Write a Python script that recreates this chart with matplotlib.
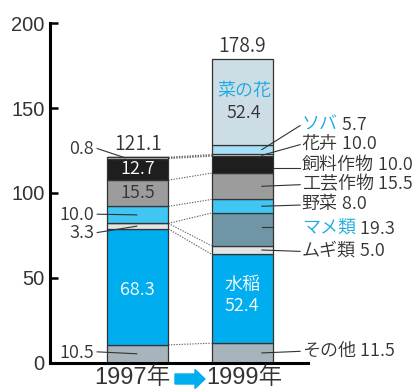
import numpy as np
import matplotlib
matplotlib.use("Agg")
import matplotlib.pyplot as plt
from matplotlib.patches import FancyArrow

plt.rcParams['font.family'] = ['Noto Sans CJK JP', 'DejaVu Sans']
plt.rcParams['font.weight'] = 350
latin = ['Liberation Sans', 'Noto Sans CJK JP']

# データ (下から順)
cats = ['その他', '水稲', 'ムギ類', 'マメ類', '野菜', '工芸作物', '飼料作物', '花卉', 'ソバ', '菜の花']
v1997 = [10.5, 68.3, 3.3, 0.0, 10.0, 15.5, 12.7, 0.8, 0.0, 0.0]
v1999 = [11.5, 52.4, 5.0, 19.3, 8.0, 15.5, 10.0, 1.0, 5.7, 50.5]
txt1999 = ['11.5', '52.4', '5.0', '19.3', '8.0', '15.5', '10.0', '10.0', '5.7', '52.4']
years = ['1997年', '1999年']

colors = ['#a7b4bc', '#00adee', '#e4e4e4', '#6f95a6', '#3fc6f3',
          '#9c9c9c', '#1e1e1e', '#f2f2f2', '#a6dff7', '#cddde6']
cyan_txt = '#1aa9e0'
dark = '#333333'

fig = plt.figure(figsize=(4.19, 3.9), dpi=100)
ax = fig.add_axes([50 / 419, 27.3 / 390, 258 / 419, 339.4 / 390])

w = 0.585
x = [0, 1]
bottoms = np.zeros(2)
tops = []
for i, c in enumerate(cats):
    vals = np.array([v1997[i], v1999[i]])
    ax.bar(x, vals, w, bottom=bottoms, color=colors[i], edgecolor=dark, linewidth=0.9, zorder=2)
    bottoms = bottoms + vals
    tops.append(bottoms)
tops = np.array(tops)
base = tops - np.array([v1997, v1999]).T
mid97 = (tops[:, 0] + base[:, 0]) / 2
mid99 = (tops[:, 1] + base[:, 1]) / 2

# 年の間をつなぐ点線
dot = dict(color='#666666', linestyle=(0, (1.2, 1.2)), linewidth=0.8, zorder=1)
for i in range(8):
    ax.plot([w / 2, 1 - w / 2], [tops[i, 0], tops[i, 1]], **dot)
ax.plot([w / 2, 1 - w / 2], [tops[6, 0] + 0.4, tops[6, 1] + 0.4], **dot)

# 合計
ax.text(0, tops[-1, 0] + 1.5, f"{sum(v1997):.1f}", ha='center', va='bottom', fontsize=14, color=dark)
ax.text(1, tops[-1, 1] + 1.5, f"{sum(v1999):.1f}", ha='center', va='bottom', fontsize=14, color=dark)

# 1997年 棒内
ax.text(0, mid97[1] - 2, f"{v1997[1]}", ha='center', va='center', fontsize=13, color='white', zorder=3)
ax.text(0, mid97[5], f"{v1997[5]}", ha='center', va='center', fontsize=13, color=dark, zorder=3)
ax.text(0, mid97[6], f"{v1997[6]}", ha='center', va='center', fontsize=13, color='white', zorder=3)

# 1997年 左側ラベル
left = {7: 125.7, 4: 87.0, 2: 76.2, 0: 5.9}
for i, ly in left.items():
    ax.text(-0.42, ly, f"{v1997[i]}", ha='right', va='center', fontsize=13, color=dark)
    ex = -0.12 if i == 7 else -0.01
    ax.plot([-0.39, ex], [ly + 0.5, mid97[i]], color=dark, linewidth=0.8, zorder=4)

# 1999年 棒内
ax.text(1, mid99[1] + 2, f"{cats[1]}\n{txt1999[1]}", ha='center', va='center', fontsize=13,
        color='white', linespacing=1.25, zorder=3)
ax.text(1.02, mid99[9] + 6.5, cats[9], ha='center', va='center', fontsize=13, color=cyan_txt, zorder=3)
ax.text(1.02, mid99[9] - 6.5, txt1999[9], ha='center', va='center', fontsize=13, color=dark, zorder=3)

# 1999年 右側ラベル
right = {8: 140.1, 7: 128.9, 6: 116.5, 5: 105.3, 4: 93.3, 3: 78.8, 2: 66.0, 0: 7.1}
for i, ly in right.items():
    col = cyan_txt if cats[i] in ('ソバ', 'マメ類') else dark
    t = ax.text(1.573, ly, cats[i], ha='left', va='center', fontsize=13, color=col)
    ax.annotate(" " + txt1999[i], xy=(1, 0.5), xycoords=t, va='center', ha='left',
                fontsize=13, color=dark)
    if i == 6:
        ax.plot([1 + w / 2, 1.557], [ly - 2, ly - 2], color=dark, linewidth=0.8, zorder=4)
    elif i == 3:
        ax.plot([1.19, 1 + w / 2], [mid99[i] + 1.5, mid99[i] + 1.5], color=dark, linewidth=0.8, zorder=4)
    else:
        ax.plot([1.19, 1.557], [mid99[i], ly - 0.4], color=dark, linewidth=0.8, zorder=4)

ax.set_xlim(-0.843, 1.633)
ax.set_ylim(0, 200)
ax.set_yticks([0, 50, 100, 150, 200])
ax.set_yticklabels(['0', '50', '100', '150', '200'], family=latin)
ax.tick_params(axis='y', direction='in', length=6, width=1.8, labelsize=14.5, pad=4, labelcolor=dark)
ax.set_xticks([])
for s in ['top', 'right']:
    ax.spines[s].set_visible(False)
for s in ['left', 'bottom']:
    ax.spines[s].set_linewidth(2.2)
ax.patch.set_visible(False)

# 年ラベルと矢印
xt = ax.get_xaxis_transform()
ax.text(-0.05, -0.012, years[0], transform=xt, ha='center', va='top', fontsize=17, family=latin, color=dark)
ax.text(1.02, -0.012, years[1], transform=xt, ha='center', va='top', fontsize=17, family=latin, color=dark)
fig.patches.append(FancyArrow(1.75, 0.11, 0.2, 0, width=0.10, head_width=0.19, head_length=0.10,
                              color='#00adee', transform=fig.dpi_scale_trans, figure=fig))

fig.savefig("out.png", dpi=100)
